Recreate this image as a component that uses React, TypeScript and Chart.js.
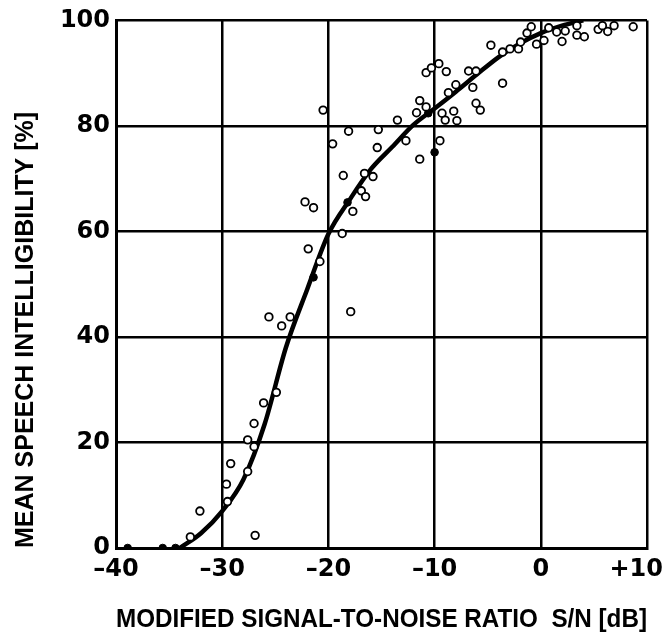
import React, { useEffect, useRef } from "react";
import { Chart, registerables } from "chart.js";

Chart.register(...registerables);

// Axis ticks
const xTickValues = [-40, -30, -20, -10, 0, 10];
const xTickLabels = ["–40", "–30", "–20", "–10", "0", "+10"];
const yTickValues = [0, 20, 40, 60, 80, 100];

// Measured data (open circles)
const openX = [
  -25.6, -24.4, -23.6, -24.9, -26.1, -27.0, -27.6, -27.0, -29.2, -27.6, -29.6, -29.5, -32.1, -33.0, -26.9,
  -18.6, -16.6, -15.8, -16.9, -16.5, -17.7, -22.2, -21.4, -18.7, -21.9, -20.8, -17.9,
  -20.5, -19.6, -18.1, -15.3, -15.4, -13.5, -12.7, -11.4, -9.5, -11.7, -11.4, -10.8, -9.3, -9.0, -8.2, -7.9,
  -10.8, -10.3, -9.6, -8.9, -8.7, -8.0, -6.8, -6.1, -6.4, -6.1, -5.7, -4.7, -3.6, -3.6, -2.9, -2.1, -1.9,
  -1.3, -0.9, -0.4, 0.3, 0.75, 1.5, 2.0, 2.3, 3.4, 3.4, 4.1, 5.4, 5.8, 6.3, 6.9, 8.7,
];
const openY = [
  43.8, 42.1, 43.8, 29.5, 27.5, 23.6, 20.5, 19.2, 16.0, 14.5, 12.1, 8.8, 7.0, 2.1, 2.4,
  70.6, 71.0, 70.4, 67.7, 66.6, 63.8, 65.6, 64.5, 59.6, 56.7, 54.3, 44.8,
  83.0, 76.6, 79.0, 79.3, 75.9, 81.1, 77.2, 73.7, 77.2, 82.5, 84.8, 83.6, 82.4, 81.1, 82.8, 81.0,
  90.1, 91.0, 91.8, 90.3, 86.3, 87.8, 90.4, 90.4, 87.3, 84.3, 83.0, 95.3, 88.1, 94.0, 94.6, 94.6, 95.9,
  97.6, 98.8, 95.5, 96.2, 98.6, 97.8, 96.0, 98.0, 99.0, 97.2, 96.9, 98.3, 99.0, 97.9, 99.0, 98.8,
];

// Measured data (filled dots)
const filledX = [-38.9, -35.6, -34.4, -21.4, -18.2, -10.6, -10.0];
const filledY = [0, 0, 0, 51.3, 65.5, 82.4, 75.0];

// Fitted curve
const curveX = [-34, -32, -30, -28, -26, -24, -22, -20, -18, -16, -14, -12, -10, -8, -6, -4, -2, 0, 2, 4];
const curveY = [0, 2.8, 7, 13, 23.5, 38, 49, 59.5, 66, 71.8, 76, 80.2, 83.3, 86.5, 89.8, 93, 95.6, 97.6, 99, 100];

const xTitle = "MODIFIED SIGNAL-TO-NOISE RATIO  S/N [dB]";
const yTitle = "MEAN SPEECH INTELLIGIBILITY [%]";

const TICK_FONT = 'bold 24px "DejaVu Sans"';

const xTickPlugin = {
  id: "xTickLabels",
  afterDraw(chart: any) {
    const xs = chart.scales.x;
    const ctx = chart.ctx;
    ctx.save();
    ctx.font = TICK_FONT;
    ctx.fillStyle = "#000";
    ctx.textBaseline = "top";
    ctx.textAlign = "center";
    xTickValues.forEach((v, i) => {
      const label = xTickLabels[i];
      const w = ctx.measureText(label).width;
      let px = xs.getPixelForValue(v);
      px = Math.min(Math.max(px, w / 2 + 2), chart.width - w / 2 - 2);
      ctx.fillText(label, px, xs.top + 10);
    });
    ctx.restore();
  },
};

export default function App() {
  const ref = useRef<HTMLCanvasElement | null>(null);

  useEffect(() => {
    if (!ref.current) return;
    const chart = new Chart(ref.current, {
      type: "scatter",
      data: {
        datasets: [
          {
            type: "scatter",
            data: openX.map((x, i) => ({ x, y: openY[i] })),
            pointRadius: 3.8,
            pointBorderWidth: 1.8,
            pointBackgroundColor: "#fff",
            pointBorderColor: "#000",
            order: 0,
          },
          {
            type: "scatter",
            data: filledX.map((x, i) => ({ x, y: filledY[i] })),
            pointRadius: 3.8,
            pointBorderWidth: 1,
            pointBackgroundColor: "#000",
            pointBorderColor: "#000",
            order: 0,
          },
          {
            type: "line",
            data: curveX.map((x, i) => ({ x, y: curveY[i] })),
            borderColor: "#000",
            borderWidth: 4.5,
            pointRadius: 0,
            fill: false,
            tension: 0.4,
            cubicInterpolationMode: "monotone",
            order: 1,
          } as any,
        ],
      },
      options: {
        responsive: false,
        animation: false,
        events: [],
        layout: { padding: { top: 16, right: 18, left: 0, bottom: 0 } },
        plugins: { legend: { display: false }, tooltip: { enabled: false } },
        scales: {
          x: {
            type: "linear",
            min: -40,
            max: 10,
            afterBuildTicks: (s: any) => {
              s.ticks = xTickValues.map((v) => ({ value: v }));
            },
            afterFit: (s: any) => {
              s.height = 89;
              s.paddingLeft = 0;
              s.paddingRight = 0;
            },
            ticks: { display: false },
            grid: { color: "#000", lineWidth: 2.5, drawTicks: false },
            border: { display: true, color: "#000", width: 3 },
            title: {
              display: true,
              text: xTitle,
              color: "#000",
              font: { family: '"Liberation Sans", Arial, sans-serif', size: 25, weight: "bold" },
              padding: { top: 0, bottom: 2 },
            },
          },
          y: {
            type: "linear",
            min: 0,
            max: 100,
            afterBuildTicks: (s: any) => {
              s.ticks = yTickValues.map((v) => ({ value: v }));
            },
            afterFit: (s: any) => {
              s.width = 116;
            },
            ticks: {
              color: "#000",
              padding: 6,
              font: { family: '"DejaVu Sans"', size: 24, weight: "bold" },
            },
            grid: { color: "#000", lineWidth: 2.5, drawTicks: false },
            border: { display: true, color: "#000", width: 3 },
            title: {
              display: true,
              text: yTitle,
              align: "start",
              color: "#000",
              font: { family: '"Liberation Sans", Arial, sans-serif', size: 25, weight: "bold" },
              padding: { top: 11, bottom: 0 },
            },
          },
        },
      },
      plugins: [xTickPlugin],
    });
    return () => chart.destroy();
  }, []);

  return (
    <div style={{ position: "fixed", left: 0, top: 0, width: 665, height: 637, background: "#fff" }}>
      <canvas ref={ref} width={665} height={637} />
    </div>
  );
}
